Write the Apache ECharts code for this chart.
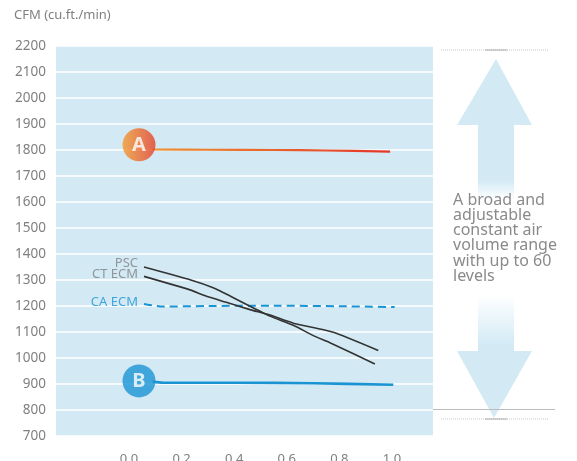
<!DOCTYPE html>
<html>
<head>
<meta charset="utf-8">
<script src="https://cdn.jsdelivr.net/npm/echarts@6/dist/echarts.min.js"></script>
<style>
html,body{margin:0;padding:0;background:#fff;}
#c{width:577px;height:461px;}
</style>
</head>
<body>
<div id="c"></div>
<script>
// ---- data ----
var yTicks = [700, 2200, 100];           // min, max, step for the CFM axis
var xTickLabels = [0.0, 0.2, 0.4, 0.6, 0.8, 1.0];
var seriesA = [[0.09,1802],[0.3,1801],[0.55,1800],[0.75,1798],[0.993,1794]];
var seriesB = [[0.09,909],[0.13,905],[0.4,905],[0.7,903],[1.005,897]];
var psc = [[0.057,1350],[0.232,1301],[0.320,1270],[0.397,1232],[0.460,1199],[0.536,1161],[0.625,1126],[0.701,1086],[0.764,1059],[0.935,977]];
var ctEcm = [[0.057,1314],[0.232,1262],[0.290,1239],[0.370,1214],[0.460,1186],[0.536,1165],[0.625,1134],[0.777,1099],[0.948,1029]];
var caEcm = [[0.057,1208],[0.13,1198],[0.3,1200],[0.55,1201],[0.8,1199],[1.01,1196]];
var markerA = [0.038, 1820];
var markerB = [0.038, 912];
var sideText = 'A broad and\nadjustable\nconstant air\nvolume range\nwith up to 60\nlevels';
var titleText = 'CFM (cu.ft./min)';

var FONT = 'Noto Sans';
var GREY = '#808080';
var LIGHT = '#d3eaf5';
var BLUE = '#1a93d3';

var chart = echarts.init(document.getElementById('c'), null, {renderer:'canvas'});
var option = {
  animation: false,
  textStyle: {fontFamily: FONT},
  grid: {left:56, right:144, top:46, bottom:25, show:true, backgroundColor:LIGHT, borderWidth:0,
    containLabel:false, outerBoundsMode:'none'},
  xAxis: {
    type:'value', min:-0.2776, max:1.156,
    axisLine:{show:false}, axisTick:{show:false}, splitLine:{show:false},
    axisLabel:{customValues:xTickLabels, margin:17, color:GREY, fontSize:13, fontFamily:FONT,
      formatter:function(v){return v.toFixed(1);}}
  },
  yAxis: {
    type:'value', min:yTicks[0], max:yTicks[1], interval:yTicks[2],
    axisLine:{show:false}, axisTick:{show:false},
    splitLine:{show:true, lineStyle:{color:'#ffffff', width:1.5}},
    axisLabel:{margin:10, color:GREY, fontSize:13.5, fontFamily:FONT,
      formatter:function(v){return String(v);}}
  },
  series: [
    {name:'CA ECM', type:'line', data:caEcm, showSymbol:false, smooth:0.3,
      lineStyle:{color:BLUE, width:2, type:[8,5]}},
    {name:'CT ECM', type:'line', data:ctEcm, showSymbol:false, smooth:0.15,
      lineStyle:{color:'#333333', width:1.6}},
    {name:'PSC', type:'line', data:psc, showSymbol:false, smooth:0.15,
      lineStyle:{color:'#333333', width:1.6}},
    {name:'A', type:'line', data:seriesA, showSymbol:false, smooth:0.3,
      lineStyle:{width:2.2, color:new echarts.graphic.LinearGradient(0,0,1,0,[{offset:0,color:'#f0922e'},{offset:1,color:'#e4352a'}])}},
    {name:'B', type:'line', data:seriesB, showSymbol:false, smooth:0.3,
      lineStyle:{width:2.6, color:BLUE}},
    {name:'labels', type:'scatter', symbolSize:0, silent:true,
      data:[
        {value:psc[0], label:{formatter:'PSC', color:GREY, offset:[0,-4]}},
        {value:ctEcm[0], label:{formatter:'CT ECM', color:GREY, offset:[0,-2]}},
        {value:caEcm[0], label:{formatter:'CA ECM', color:BLUE, offset:[0,-2]}}
      ],
      label:{show:true, position:'left', distance:6, fontSize:13, fontFamily:FONT}
    },
    {name:'markers', type:'scatter', symbol:'circle', symbolSize:33, z:5,
      data:[
        {value:markerA, label:{formatter:'A'},
          itemStyle:{color:new echarts.graphic.LinearGradient(0,0,1,0,[{offset:0,color:'#f39a2c'},{offset:1,color:'#e43f2a'}])}},
        {value:markerB, label:{formatter:'B'}, itemStyle:{color:BLUE}}
      ],
      label:{show:true, position:'inside', color:'#fff', fontSize:20, fontWeight:'bold', fontFamily:FONT}
    }
  ],
  graphic: [
    {type:'text', left:14, top:9, style:{text:titleText, fill:GREY, font:'13px "Noto Sans"'}},
    // dotted top and bottom markers
    {type:'line', shape:{x1:441,y1:50,x2:548,y2:50}, style:{stroke:'#c8c8c8', lineWidth:1, lineDash:[1,1]}},
    {type:'line', shape:{x1:485,y1:50,x2:507,y2:50}, style:{stroke:'#aaaaaa', lineWidth:1}},
    {type:'line', shape:{x1:441,y1:419,x2:548,y2:419}, style:{stroke:'#c8c8c8', lineWidth:1, lineDash:[1,1]}},
    {type:'line', shape:{x1:485,y1:419,x2:507,y2:419}, style:{stroke:'#aaaaaa', lineWidth:1}},
    // arrows
    {type:'rect', shape:{x:478, y:124, width:36, height:228}, z:1,
      style:{fill:new echarts.graphic.LinearGradient(0,0,0,1,[
        {offset:0,color:LIGHT},{offset:0.25,color:LIGHT},{offset:0.33,color:'rgba(211,234,245,0)'},
        {offset:0.75,color:'rgba(211,234,245,0)'},{offset:0.97,color:LIGHT},{offset:1,color:LIGHT}])}},
    {type:'polygon', shape:{points:[[496,59],[532,125],[457,125]]}, style:{fill:LIGHT}},
    {type:'polygon', shape:{points:[[457,351],[532,351],[494,418]]}, style:{fill:LIGHT}},
    {type:'line', shape:{x1:433,y1:409.5,x2:555,y2:409.5}, style:{stroke:'#bdbdbd', lineWidth:1.2}, z:10},
    {type:'text', left:453, top:192, z:10, style:{text:sideText, fill:'#8a8a8a', font:'16px "Noto Sans"', lineHeight:15.3}}
  ]
};
chart.setOption(option);
</script>
</body>
</html>
